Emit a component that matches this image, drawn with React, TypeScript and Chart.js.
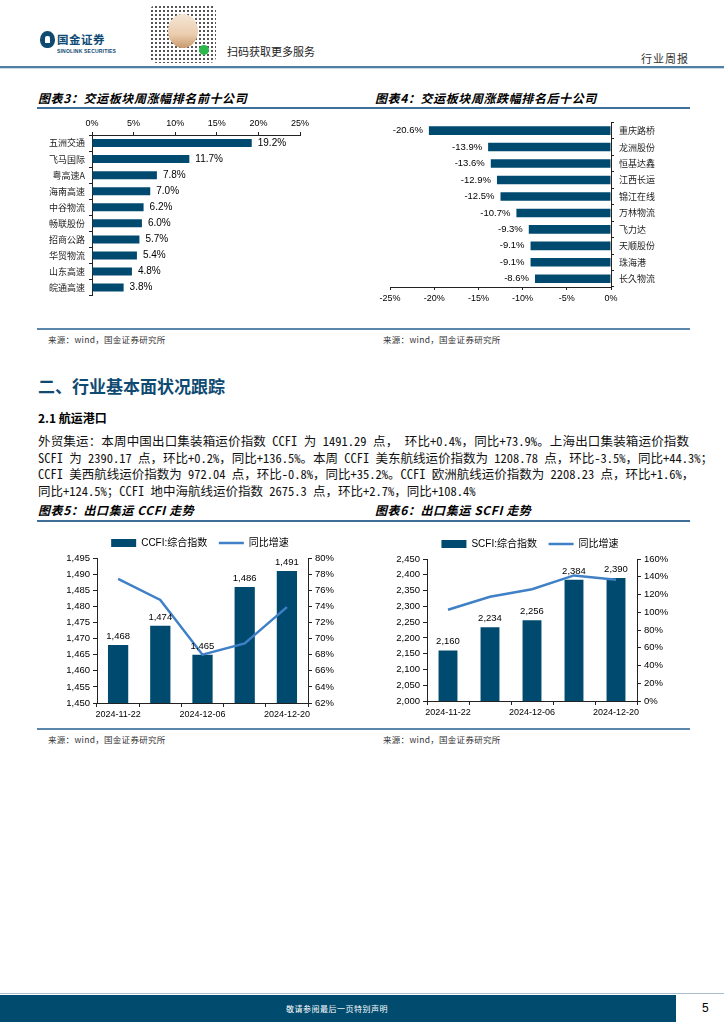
import React, { useEffect, useRef } from 'react';
import { Chart, registerables } from 'chart.js';

Chart.register(...registerables);

// ---------- data ----------
const topCompanies = ['五洲交通', '飞马国际', '粤高速A', '海南高速', '中谷物流', '畅联股份', '招商公路', '华贸物流', '山东高速', '皖通高速'];
const topChanges = [19.2, 11.7, 7.8, 7.0, 6.2, 6.0, 5.7, 5.4, 4.8, 3.8];

const bottomCompanies = ['重庆路桥', '龙洲股份', '恒基达鑫', '江西长运', '锦江在线', '万林物流', '飞力达', '天顺股份', '珠海港', '长久物流'];
const bottomChanges = [-20.6, -13.9, -13.6, -12.9, -12.5, -10.7, -9.3, -9.1, -9.1, -8.6];

const weekDates = ['2024-11-22', '2024-11-29', '2024-12-06', '2024-12-13', '2024-12-20'];
const ccfiIndex = [1468, 1474, 1465, 1486, 1491];
const ccfiYoY = [77.4, 74.8, 68.0, 69.4, 73.9];
const scfiIndex = [2160, 2234, 2256, 2384, 2390];
const scfiYoY = [102.8, 117.5, 126.0, 141.5, 136.5];

const ccfiLabel = 'CCFI:综合指数';
const scfiLabel = 'SCFI:综合指数';
const yoyLabel = '同比增速';

// ---------- styles ----------
const BAR = '#004A6F';
const LINE = '#3F80C6';
const AXIS = '#222222';
const LATIN = '"Liberation Sans", Arial, "Noto Sans CJK SC", sans-serif';
const CJK = '"Noto Sans CJK SC", sans-serif';
const TEXT = '"Noto Sans Mono CJK SC", "Noto Sans CJK SC", sans-serif';

Chart.defaults.font.family = LATIN;
Chart.defaults.color = '#000';

type LabelMode = 'right' | 'left' | 'top';
function valueLabels(mode: LabelMode, fmt: (v: number) => string, size: number) {
  return {
    id: 'valueLabels',
    afterDatasetsDraw(chart: any) {
      const ctx = chart.ctx;
      const meta = chart.getDatasetMeta(0);
      const data = chart.data.datasets[0].data as number[];
      ctx.save();
      ctx.font = `${size}px ${LATIN}`;
      ctx.fillStyle = '#000';
      meta.data.forEach((el: any, i: number) => {
        const { x, y } = el.getProps(['x', 'y'], true);
        const t = fmt(data[i]);
        if (mode === 'right') {
          ctx.textAlign = 'left';
          ctx.textBaseline = 'middle';
          ctx.fillText(t, x + 6, y);
        } else if (mode === 'left') {
          ctx.textAlign = 'right';
          ctx.textBaseline = 'middle';
          ctx.fillText(t, x - 6, y);
        } else {
          ctx.textAlign = 'center';
          ctx.textBaseline = 'bottom';
          ctx.fillText(t, x, y - 4);
        }
      });
      ctx.restore();
    },
  };
}

const pct = (v: any) => `${v}%`;
const fmt1 = (v: number) => `${v.toFixed(1)}%`;
const thousands = (v: number) => Number(v).toLocaleString('en-US');

function topConfig(): any {
  return {
    type: 'bar',
    data: {
      labels: topCompanies,
      datasets: [{ data: topChanges, backgroundColor: BAR, barPercentage: 0.5, categoryPercentage: 1 }],
    },
    options: {
      indexAxis: 'y',
      responsive: false,
      animation: false,
      layout: { padding: { left: 0, right: 20, top: 0, bottom: 2 } },
      plugins: { legend: { display: false }, tooltip: { enabled: false } },
      scales: {
        x: {
          position: 'top', min: 0, max: 25,
          ticks: { stepSize: 5, callback: pct, font: { size: 9 }, color: '#000', padding: 3 },
          grid: { drawOnChartArea: false, tickLength: 3, color: AXIS },
          border: { color: AXIS },
          afterFit: (s: any) => { s.height = 25; },
        },
        y: {
          ticks: { font: { size: 9, family: CJK }, color: '#222', padding: 4 },
          grid: { drawOnChartArea: false, tickLength: 3, color: AXIS },
          border: { color: AXIS },
          afterFit: (s: any) => { s.width = 62; },
        },
      },
    },
    plugins: [valueLabels('right', fmt1, 10)],
  };
}

function bottomConfig(): any {
  return {
    type: 'bar',
    data: {
      labels: bottomCompanies,
      datasets: [{ data: bottomChanges, backgroundColor: BAR, barPercentage: 0.52, categoryPercentage: 1 }],
    },
    options: {
      indexAxis: 'y',
      responsive: false,
      animation: false,
      layout: { padding: { left: 18, right: 0, top: 10, bottom: 0 } },
      plugins: { legend: { display: false }, tooltip: { enabled: false } },
      scales: {
        x: {
          position: 'bottom', min: -25, max: 0,
          ticks: { stepSize: 5, callback: pct, font: { size: 9 }, color: '#000', padding: 3 },
          grid: { drawOnChartArea: false, tickLength: 3, color: AXIS },
          border: { color: AXIS },
          afterFit: (s: any) => { s.height = 22; },
        },
        y: {
          position: 'right',
          ticks: { font: { size: 9, family: CJK }, color: '#222', padding: 5 },
          grid: { drawOnChartArea: false, tickLength: 3, color: AXIS },
          border: { color: AXIS },
          afterFit: (s: any) => { s.width = 59; },
        },
      },
    },
    plugins: [valueLabels('left', fmt1, 9.5)],
  };
}

function comboConfig(
  barLabel: string, bars: number[], yoy: number[],
  yMin: number, yMax: number, yStep: number,
  rMin: number, rMax: number, rStep: number,
  leftW: number, rightW: number, barPct: number,
): any {
  return {
    type: 'bar',
    data: {
      labels: weekDates,
      datasets: [
        { type: 'bar', label: barLabel, data: bars, backgroundColor: BAR, borderWidth: 0, barPercentage: barPct, categoryPercentage: 1, yAxisID: 'y', order: 1 },
        { type: 'line', label: yoyLabel, data: yoy, borderColor: LINE, backgroundColor: LINE, borderWidth: 2.5, pointRadius: 0, tension: 0, yAxisID: 'y1', order: 0 },
      ],
    },
    options: {
      responsive: false,
      animation: false,
      layout: { padding: 0 },
      plugins: {
        tooltip: { enabled: false },
        legend: {
          display: true,
          position: 'top',
          labels: {
            usePointStyle: true,
            pointStyleWidth: 25,
            boxHeight: 8,
            padding: 6,
            color: '#000',
            font: { size: 10, family: LATIN },
            sort: (a: any, b: any) => a.datasetIndex - b.datasetIndex,
            generateLabels: (chart: any) => {
              const items = Chart.defaults.plugins.legend.labels.generateLabels(chart);
              items.forEach((it: any) => {
                if (it.datasetIndex === 0) {
                  it.pointStyle = 'rect';
                  it.lineWidth = 0;
                  it.text = it.text + '  ';
                } else {
                  it.pointStyle = 'line';
                }
              });
              return items;
            },
          },
        },
      },
      scales: {
        x: {
          ticks: {
            autoSkip: false, maxRotation: 0, minRotation: 0,
            callback: (_v: any, i: number) => (i % 2 === 0 ? weekDates[i] : ''),
            font: { size: 9 }, color: '#000', padding: 2,
          },
          grid: { drawOnChartArea: false, tickLength: 4, color: AXIS, offset: true },
          border: { color: AXIS },
          afterFit: (s: any) => { s.height = 20; },
        },
        y: {
          position: 'left', min: yMin, max: yMax,
          ticks: { stepSize: yStep, callback: (v: any) => thousands(v), font: { size: 9.5 }, color: '#000', padding: 3 },
          grid: { drawOnChartArea: false, tickLength: 4, color: AXIS },
          border: { color: AXIS },
          afterFit: (s: any) => { s.width = leftW; },
        },
        y1: {
          position: 'right', min: rMin, max: rMax,
          ticks: { stepSize: rStep, callback: pct, font: { size: 9.5 }, color: '#000', padding: 3 },
          grid: { drawOnChartArea: false, tickLength: 4, color: AXIS },
          border: { color: AXIS },
          afterFit: (s: any) => { s.width = rightW; },
        },
      },
    },
    plugins: [valueLabels('top', thousands, 9.5)],
  };
}

function ChartCanvas({ left, top, width, height, make }: { left: number; top: number; width: number; height: number; make: () => any }) {
  const ref = useRef<HTMLCanvasElement>(null);
  useEffect(() => {
    const chart = new Chart(ref.current as HTMLCanvasElement, make());
    return () => chart.destroy();
  }, []);
  return (
    <div style={{ position: 'absolute', left, top, width, height }}>
      <canvas ref={ref} width={width} height={height} style={{ width, height, display: 'block' }} />
    </div>
  );
}

function Txt({ x, y, size, children, style }: { x: number; y: number; size: number; children: any; style?: any }) {
  return (
    <div style={{ position: 'absolute', left: x, top: y - size * 0.6, fontSize: size, lineHeight: `${size * 1.2}px`, whiteSpace: 'nowrap', fontFamily: CJK, color: '#111', ...style }}>
      {children}
    </div>
  );
}

function HLine({ x, y, w, h, color }: { x: number; y: number; w: number; h: number; color: string }) {
  return <div style={{ position: 'absolute', left: x, top: y, width: w, height: h, background: color }} />;
}

const titleStyle = { fontWeight: 700, fontStyle: 'italic', color: '#000', letterSpacing: '0.6px' };
const sourceStyle = { color: '#333', letterSpacing: '0.3px' };

const paraLines = [
  '外贸集运：本周中国出口集装箱运价指数 CCFI 为 1491.29 点， 环比+0.4%，同比+73.9%。上海出口集装箱运价指数',
  'SCFI 为 2390.17 点，环比+0.2%，同比+136.5%。本周 CCFI 美东航线运价指数为 1208.78 点，环比-3.5%，同比+44.3%；',
  'CCFI 美西航线运价指数为 972.04 点，环比-0.8%，同比+35.2%。CCFI 欧洲航线运价指数为 2208.23 点，环比+1.6%，',
  '同比+124.5%；CCFI 地中海航线运价指数 2675.3 点，环比+2.7%，同比+108.4%',
];

export default function App() {
  return (
    <div style={{ position: 'absolute', left: 0, top: 0, width: 724, height: 1024, overflow: 'hidden', background: '#fff', fontFamily: CJK }}>
      {/* header */}
      <div style={{ position: 'absolute', left: 40, top: 31, width: 15, height: 17, borderRadius: '50% 50% 45% 45%', background: '#0E4A72' }} />
      <div style={{ position: 'absolute', left: 45, top: 36, width: 5, height: 7, background: '#fff', borderRadius: '2px 2px 0 0' }} />
      <Txt x={57} y={40} size={11.5} style={{ fontWeight: 700, color: '#0E4A72', letterSpacing: '0.5px' }}>国金证券</Txt>
      <Txt x={57} y={50.5} size={5} style={{ fontFamily: LATIN, fontWeight: 700, color: '#0E4A72', letterSpacing: '0.2px' }}>SINOLINK SECURITIES</Txt>
      <div style={{ position: 'absolute', left: 150, top: 5, width: 66, height: 58, backgroundImage: 'radial-gradient(circle, #555 0.9px, transparent 1.3px)', backgroundSize: '4px 4px', borderRadius: 6 }} />
      <div style={{ position: 'absolute', left: 168, top: 14, width: 30, height: 34, borderRadius: '50%', background: 'linear-gradient(#F5E7D6 0%, #EBCDAE 60%, #C99A6E 100%)' }} />
      <div style={{ position: 'absolute', left: 199, top: 45, width: 10, height: 10, borderRadius: '50%', background: '#2DB84C' }} />
      <Txt x={227} y={52} size={11} style={{ color: '#222' }}>扫码获取更多服务</Txt>
      <Txt x={641} y={59} size={11} style={{ color: '#333', letterSpacing: '1px' }}>行业周报</Txt>
      <HLine x={0} y={66} w={724} h={2} color="#4F7FA5" />
      <HLine x={0} y={68} w={724} h={1} color="#C9D7E2" />

      {/* chart 3 & 4 titles */}
      <Txt x={38} y={98} size={12} style={titleStyle}>图表3：交运板块周涨幅排名前十公司</Txt>
      <Txt x={375} y={98} size={12} style={titleStyle}>图表4：交运板块周涨跌幅排名后十公司</Txt>
      <HLine x={37} y={107} w={653} h={1.5} color="#3E6F98" />

      <ChartCanvas left={30} top={110} width={290} height={195} make={topConfig} />
      <ChartCanvas left={372} top={112} width={298} height={197} make={bottomConfig} />

      <HLine x={37} y={328} w={653} h={1.5} color="#5A87AB" />
      <Txt x={48} y={339.5} size={8.5} style={sourceStyle}>来源：wind，国金证券研究所</Txt>
      <Txt x={383} y={339.5} size={8.5} style={sourceStyle}>来源：wind，国金证券研究所</Txt>

      {/* section */}
      <Txt x={38} y={386} size={17} style={{ fontWeight: 700, color: '#0E4A72' }}>二、行业基本面状况跟踪</Txt>
      <Txt x={38} y={418} size={12} style={{ fontWeight: 700, color: '#000' }}>2.1 航运港口</Txt>
      {paraLines.map((t, i) => (
        <div
          key={i}
          style={{
            position: 'absolute', left: 38, top: 433 + i * 16.5, width: 651, fontSize: 12.5, lineHeight: '16px',
            fontFamily: TEXT, color: '#111', whiteSpace: 'nowrap',
            textAlign: i < 3 ? 'justify' : 'left', textAlignLast: i < 3 ? 'justify' : 'left',
          } as any}
        >
          {t}
        </div>
      ))}

      {/* chart 5 & 6 titles */}
      <Txt x={38} y={510} size={12} style={titleStyle}>图表5：出口集运 CCFI 走势</Txt>
      <Txt x={375} y={510} size={12} style={titleStyle}>图表6：出口集运 SCFI 走势</Txt>
      <HLine x={37} y={520} w={653} h={1.5} color="#3E6F98" />

      <ChartCanvas
        left={40} top={532} width={320} height={191}
        make={() => comboConfig(ccfiLabel, ccfiIndex, ccfiYoY, 1450, 1495, 5, 62, 80, 2, 57, 52, 0.48)}
      />
      <ChartCanvas
        left={370} top={533} width={320} height={188}
        make={() => comboConfig(scfiLabel, scfiIndex, scfiYoY, 2000, 2450, 50, 0, 160, 20, 57, 53, 0.45)}
      />

      <HLine x={37} y={728} w={653} h={1.5} color="#5A87AB" />
      <Txt x={48} y={739.5} size={8.5} style={sourceStyle}>来源：wind，国金证券研究所</Txt>
      <Txt x={383} y={739.5} size={8.5} style={sourceStyle}>来源：wind，国金证券研究所</Txt>

      {/* footer */}
      <HLine x={0} y={993} w={724} h={1} color="#A9BFCF" />
      <HLine x={0} y={995} w={676} h={27} color="#004B6E" />
      <Txt x={286} y={1008.5} size={8} style={{ color: '#fff', letterSpacing: '0.5px' }}>敬请参阅最后一页特别声明</Txt>
      <Txt x={702} y={1008} size={12} style={{ fontFamily: LATIN, color: '#000' }}>5</Txt>
    </div>
  );
}
